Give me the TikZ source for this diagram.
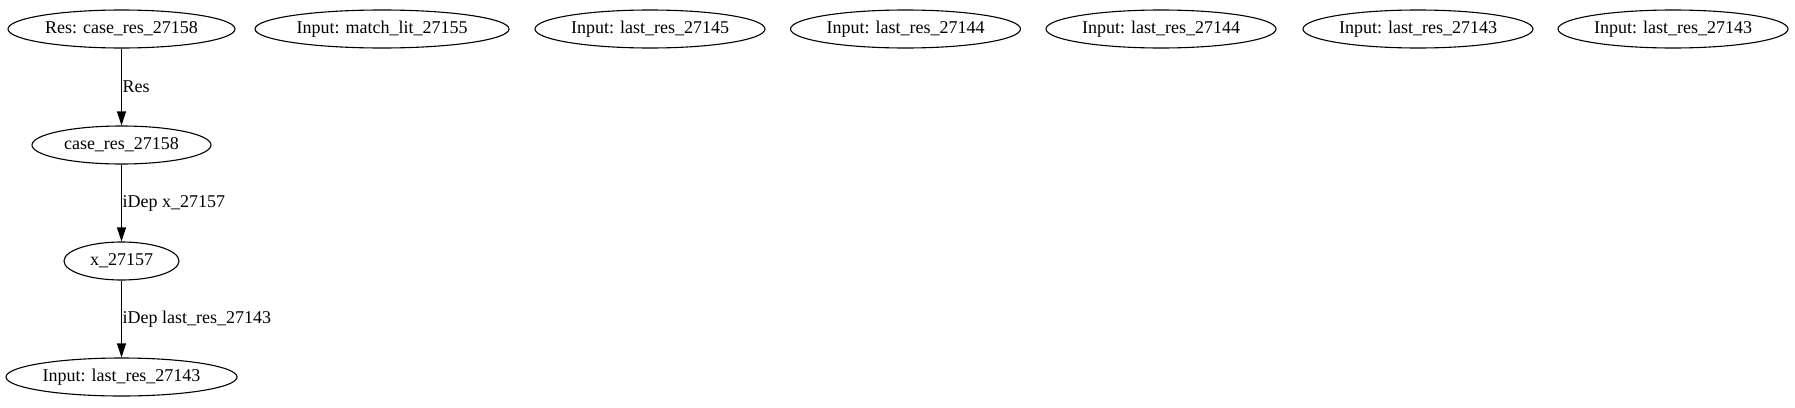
\documentclass[tikz,border=0pt]{standalone}
\usepackage{fontspec}
\setmainfont{Liberation Serif}
\usetikzlibrary{shapes,shapes.geometric,arrows.meta,positioning}
\begin{document}
\begin{tikzpicture}[x=1pt,y=-1pt]
            \tikzstyle{every node} = [align=center, draw, ellipse, inner sep=0pt, minimum height=38pt, line width=1.1pt, font=\fontsize{18}{21}\selectfont, node distance=116pt]
            \tikzstyle{lbl} = [draw=none, rectangle, anchor=west, inner sep=0.5pt, minimum height=0pt]
            \useasboundingbox (0,0) rectangle (1795,407);
            \node[minimum width=227pt] (res) at (121.5,29) {Res: case\_res\_27158};
            \node[below of=res, minimum width=179pt](case){case\_res\_27158};
            \node[below of=case, minimum width=115pt](x){x\_27157};
            \node[below of=x, minimum width=231pt](in){Input: last\_res\_27143};

            \node[right of=res, node distance=260.5pt, minimum width=254pt](lit){Input: match\_lit\_27155};
            \node[right of=lit, node distance=268pt, minimum width=230pt](in1){Input: last\_res\_27145};
            \node[right of=in1, node distance=255.5pt, minimum width=230pt](in2){Input: last\_res\_27144};
            \node[right of=in2, node distance=255.5pt, minimum width=230pt](in3){Input: last\_res\_27144};
            \node[right of=in3, node distance=257pt, minimum width=230pt](in4){Input: last\_res\_27143};
            \node[right of=in4, node distance=255pt, minimum width=230pt](in5){Input: last\_res\_27143};

            \path[-{Triangle[length=14pt,width=9pt]}, line width=1.1pt] (res) edge node[lbl](){Res} (case);
            \path[-{Triangle[length=14pt,width=9pt]}, line width=1.1pt] (case) edge node[lbl](){iDep x\_27157} (x);
            \path[-{Triangle[length=14pt,width=9pt]}, line width=1.1pt] (x) edge node[lbl](){iDep last\_res\_27143} (in);
      \end{tikzpicture}
\end{document}
